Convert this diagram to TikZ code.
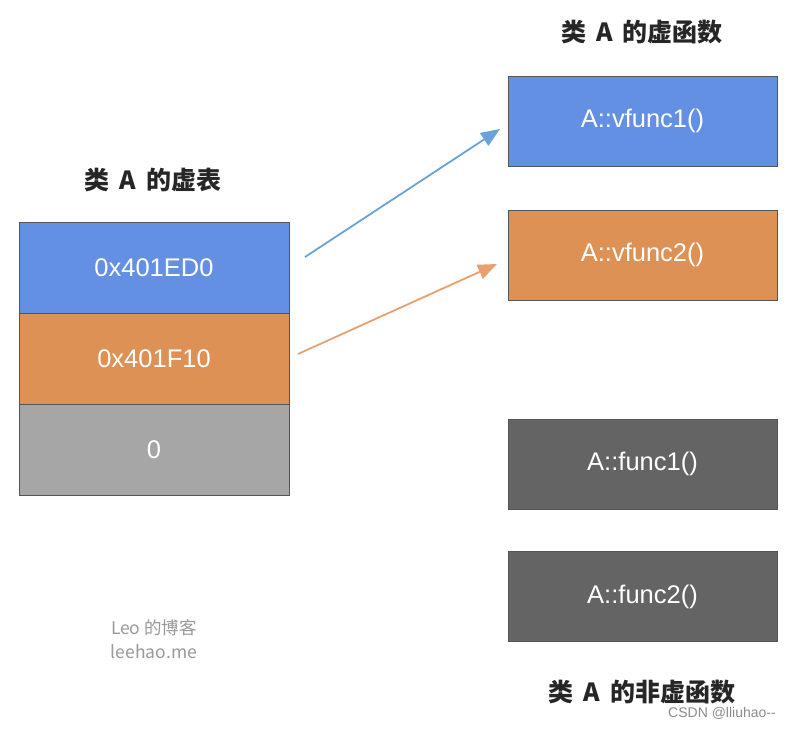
\documentclass[tikz,border=0pt]{standalone}
\usepackage{fontspec}
\setmainfont{Liberation Sans}
\newfontfamily\cjk{Noto Sans CJK SC}
\usetikzlibrary{arrows.meta}
\definecolor{cblue}{HTML}{6490E4}
\definecolor{corange}{HTML}{DE9155}
\definecolor{cgray}{HTML}{A6A6A6}
\definecolor{cdark}{HTML}{646464}
\definecolor{ablue}{HTML}{6AA2DA}
\definecolor{aorange}{HTML}{E8A070}
\definecolor{cedge}{HTML}{555555}
\tikzset{
  cell/.style={draw=cedge, line width=0.8pt, minimum width=270pt, minimum height=91pt, inner sep=0pt, text=white, font=\fontsize{25.5}{28}\selectfont},
  fbox/.style={draw=cedge, line width=0.8pt, minimum width=269pt, minimum height=90pt, inner sep=0pt, text=white, font=\fontsize{25.5}{28}\selectfont},
  title/.style={font=\fontsize{25}{28}\selectfont\bfseries\cjk, text=black!85},
  wm/.style={font=\fontsize{17.5}{20}\selectfont\cjk, text=black!40},
  conn/.style={line width=1.8pt, -{Triangle[length=19pt,width=15pt]}}
}
\begin{document}
\begin{tikzpicture}[x=1pt,y=-1pt]
\useasboundingbox (0,0) rectangle (792,728);
\fill[white] (0,0) rectangle (792,728);
% left table
\node[cell, fill=cblue] (t1) at (154,267.5) {0x401ED0};
\node[cell, fill=corange] (t2) at (154,358.5) {0x401F10};
\node[cell, fill=cgray] (t3) at (154,449.5) {0};
\node[title] (tt) at (153,180) {类\hspace{0.4em}A\hspace{0.4em}的虚表};
% right boxes
\node[fbox, fill=cblue] (v1) at (642.5,121) {A::vfunc1()};
\node[fbox, fill=corange] (v2) at (642.5,255) {A::vfunc2()};
\node[fbox, fill=cdark] (f1) at (642.5,464) {A::func1()};
\node[fbox, fill=cdark] (f2) at (642.5,596.5) {A::func2()};
\node[title] (vt) at (642,32) {类\hspace{0.4em}A\hspace{0.4em}的虚函数};
\node[title] (nt) at (642,692) {类\hspace{0.4em}A\hspace{0.4em}的非虚函数};
% arrows
\coordinate (s1) at (305,257);
\coordinate (e1) at (500,129);
\coordinate (s2) at (298,354);
\coordinate (e2) at (497,264);
\draw[conn, ablue] (s1) -- (e1);
\draw[conn, aorange] (s2) -- (e2);
% watermark
\node[wm] (w1) at (154,628) {Leo 的博客};
\node[wm] (w2) at (154,652) {leehao.me};
\node[font=\fontsize{14}{16}\selectfont, text=black!45] (csdn) at (722,713) {CSDN @lliuhao{-}{-}};
\end{tikzpicture}
\end{document}
